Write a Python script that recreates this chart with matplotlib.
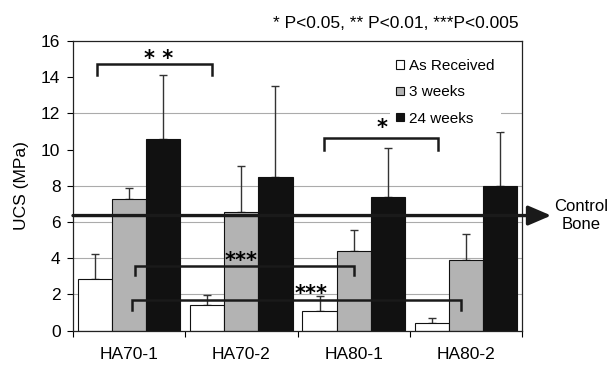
import numpy as np
import matplotlib
matplotlib.use("Agg")
import matplotlib.pyplot as plt
from matplotlib.patches import FancyArrowPatch

plt.rcParams['font.family'] = ['Liberation Sans', 'DejaVu Sans']

# ---- data ----
categories = ["HA70-1", "HA70-2", "HA80-1", "HA80-2"]
series = ["As Received", "3 weeks", "24 weeks"]
as_received = [2.86, 1.42, 1.10, 0.41]
as_received_top = [4.24, 1.99, 1.92, 0.72]
weeks3 = [7.27, 6.57, 4.42, 3.91]
weeks3_top = [7.88, 9.10, 5.56, 5.34]
weeks24 = [10.60, 8.47, 7.37, 8.00]
weeks24_top = [14.10, 13.50, 10.08, 10.96]
control_bone = 6.36
yticks = [0, 2, 4, 6, 8, 10, 12, 14, 16]

values = [as_received, weeks3, weeks24]
tops = [as_received_top, weeks3_top, weeks24_top]

# ---- styles ----
colors = ["#ffffff", "#b3b3b3", "#111111"]
bar_w = 0.304
offsets = [-bar_w, 0.0, bar_w]

fig = plt.figure(figsize=(6.09, 3.65), dpi=100)
ax = fig.add_axes([73 / 609, 1 - 330.7 / 365, (522 - 73) / 609, (330.7 - 41) / 365])

x = np.arange(len(categories))
ax.set_xlim(-0.5, len(categories) - 0.5)
ax.set_ylim(0, 16)

# grid lines (only those visible in the reference)
for g in [2, 4, 6, 8, 12]:
    ax.axhline(g, color="#ababab", lw=0.8, zorder=0.5)

handles = []
for i, (vals, tp) in enumerate(zip(values, tops)):
    vals = np.array(vals)
    tp = np.array(tp)
    b = ax.bar(x + offsets[i], vals, width=bar_w, color=colors[i],
               edgecolor="#111111", linewidth=0.8, zorder=2, label=series[i])
    handles.append(b)
    ax.errorbar(x + offsets[i], vals, yerr=[np.zeros_like(vals), tp - vals],
                fmt="none", ecolor="#333333", elinewidth=1.0, capsize=3,
                capthick=1.0, zorder=1.8)

# control bone arrow line
arr = FancyArrowPatch((-0.5, control_bone), (3.76, control_bone),
                      arrowstyle="-|>,head_length=14,head_width=6",
                      mutation_scale=1, color="#1a1a1a", lw=2.4,
                      shrinkA=0, shrinkB=0, clip_on=False, zorder=4)
ax.add_patch(arr)
ax.text(3.79, control_bone, "Control\nBone", ha="left", va="center",
        multialignment="center", fontsize=12, clip_on=False)

# significance brackets: (group_a, series_a, group_b, series_b, y_top, y_leg, label, label_x, label_y, dx_a, dx_b)
brackets = [
    (0, 0, 1, 0, 14.72, 14.13, "* *", 0.26, 15.29, 0.02, 0.04),
    (2, 0, 3, 0, 10.66, 9.98, "*", 2.254, 11.48, 0.04, 0.06),
    (0, 1, 2, 1, 3.57, 3.05, "***", 1.0, 4.13, 0.05, 0.0),
    (0, 1, 3, 1, 1.70, 1.14, "***", 1.62, 2.30, 0.025, -0.04),
]
for ga, sa, gb, sb, ytop, yleg, lab, lx, ly, dxa, dxb in brackets:
    xa = ga + offsets[sa] + dxa
    xb = gb + offsets[sb] + dxb
    ax.plot([xa, xa, xb, xb], [yleg, ytop, ytop, yleg], color="#1a1a1a",
            lw=1.8, zorder=3, solid_joinstyle="miter")
    ax.annotate(lab, (lx, ly), xytext=(0, -8), textcoords="offset points",
                ha="center", va="baseline", fontsize=15, fontweight="bold",
                family="DejaVu Sans", zorder=7)

# axes styling
ax.set_yticks(yticks)
ax.tick_params(axis="y", direction="out", length=4, width=0.8, pad=5,
               labelsize=12.5)
ax.set_xticks(x)
ax.set_xticklabels(categories)
ax.tick_params(axis="x", which="major", length=0, pad=12, labelsize=12.5)
ax.set_xticks(np.arange(len(categories) + 1) - 0.5, minor=True)
ax.tick_params(axis="x", which="minor", direction="out", length=4, width=0.8)
for s in ax.spines.values():
    s.set_linewidth(0.9)
    s.set_color("#222222")
ax.set_ylabel("UCS (MPa)", fontsize=12.5, labelpad=9)

leg = ax.legend(handles=handles, loc="upper left",
                bbox_to_anchor=((390 - 73) / 449, 1 - (53 - 41) / 289.7),
                fontsize=11, frameon=True, facecolor="white",
                edgecolor="none", fancybox=False, framealpha=1,
                handlelength=0.5, handleheight=0.5, handletextpad=0.35,
                labelspacing=0.8, borderpad=0.4, borderaxespad=0)
leg.set_zorder(5)

fig.text(396 / 609, 1 - 23.3 / 365, "* P<0.05, ** P<0.01, ***P<0.005",
         ha="center", va="center", fontsize=12.5)

fig.savefig("out.png", dpi=100)
